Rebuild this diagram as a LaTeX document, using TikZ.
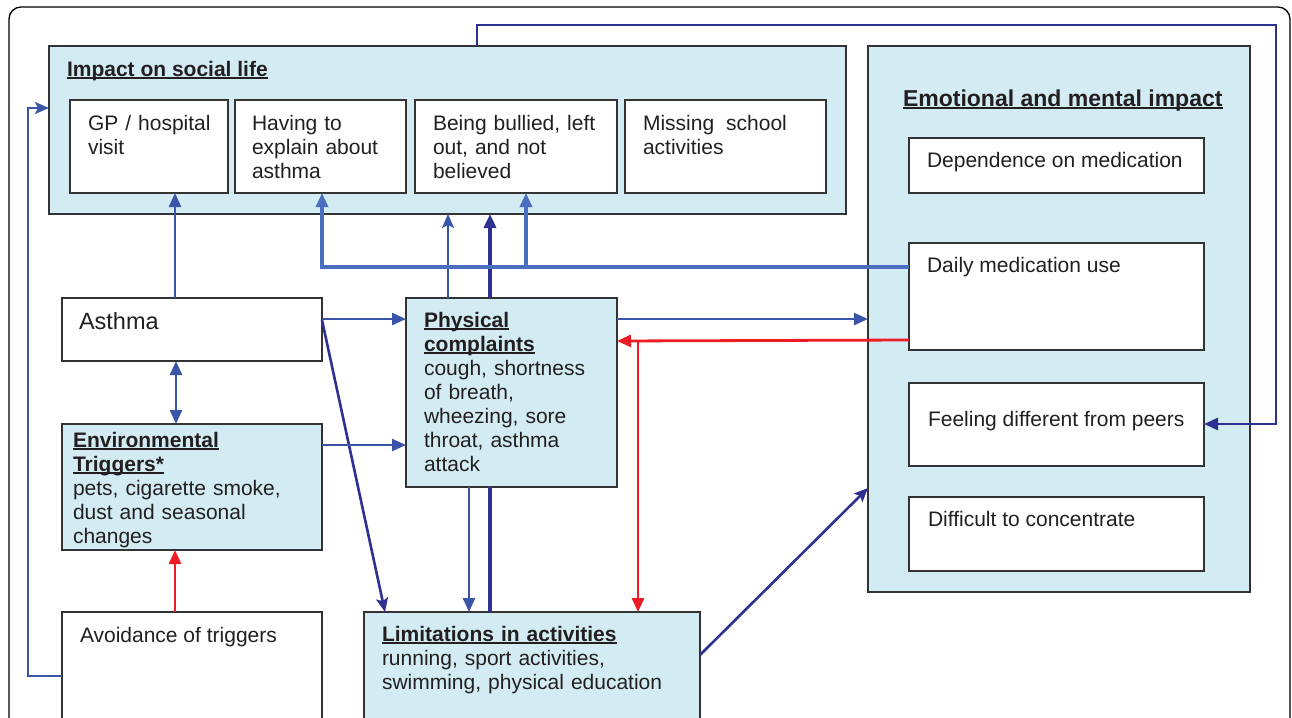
\documentclass[tikz,border=0pt]{standalone}
\usepackage{fontspec}
\setmainfont{Liberation Sans}
\usetikzlibrary{arrows.meta,calc}
\definecolor{lb}{HTML}{D3ECF3}
\definecolor{bline}{HTML}{333333}
\definecolor{tcol}{HTML}{231F20}
\definecolor{ablue}{HTML}{3A54A8}
\definecolor{anavy}{HTML}{2E3192}
\definecolor{alight}{HTML}{4A6FC1}
\definecolor{ared}{HTML}{ED1C24}
\newcommand\myul[1]{\leavevmode\setbox0\hbox{#1}\rlap{\rule[-2.6pt]{\wd0}{1.5pt}}\box0}
\begin{document}
\begin{tikzpicture}[x=1pt,y=-1pt,
 bx/.style={draw=bline, line width=2pt, anchor=north west, inner sep=0pt, outer sep=0pt},
 wbx/.style={bx, fill=white},
 lbx/.style={bx, fill=lb},
 mtxt/.style={anchor=north west, inner sep=0pt, outer sep=0pt, align=left, text width=330pt, text=tcol, font=\fontsize{21}{24}\selectfont},
 otxt/.style={anchor=base west, inner sep=0pt, outer sep=0pt, text=tcol, font=\fontsize{21}{24}\selectfont},
 tri/.style={-{Triangle[length=14pt,width=12pt]}},
 dtri/.style={{Triangle[length=14pt,width=12pt]}-{Triangle[length=14pt,width=12pt]}},
 stl/.style={-{Stealth[length=14pt,width=12pt,inset=3pt]}},
 bl/.style={ablue, line width=2.4pt},
 nv/.style={anavy, line width=2.6pt},
 lt/.style={alight, line width=3.2pt},
 rd/.style={ared, line width=2.8pt},
]
\useasboundingbox (0,0) rectangle (1292,717);
\clip (0,0) rectangle (1292,717);
\fill[white] (0,0) rectangle (1292,717);
% outer frame
\draw[black, line width=1.3pt, rounded corners=12pt] (9,7) rectangle (1290,760);

% social life
\node[lbx, minimum width=797pt, minimum height=168pt] (soc) at (49,46) {};
\node[otxt] (socT) at (67,76) {\myul{\textbf{Impact on social life}}};
\node[wbx, minimum width=158pt, minimum height=93pt] (gp) at (70,100) {};
\node[wbx, minimum width=171pt, minimum height=93pt] (hav) at (235,100) {};
\node[wbx, minimum width=202pt, minimum height=93pt] (bul) at (415,100) {};
\node[wbx, minimum width=201pt, minimum height=93pt] (mis) at (625,100) {};
\node[mtxt] (gpT) at (88,113.2) {\strut GP / hospital\\visit};
\node[mtxt] (havT) at (252,113.2) {\strut Having to\\explain about\\asthma};
\node[mtxt] (bulT) at (433,113.2) {\strut Being bullied, left\\out, and not\\believed};
\node[mtxt] (misT) at (643,113.2) {\strut Missing\hspace{5pt} school\\activities};

% emotional
\node[lbx, minimum width=382pt, minimum height=546pt] (emo) at (868,46) {};
\node[otxt, font=\fontsize{23}{26}\selectfont] (emoT) at (903,106) {\myul{\textbf{Emotional and mental impact}}};
\node[wbx, minimum width=295pt, minimum height=55pt] (dep) at (909,138) {};
\node[wbx, minimum width=295pt, minimum height=107pt] (dai) at (909,243) {};
\node[wbx, minimum width=295pt, minimum height=83pt] (fee) at (909,383) {};
\node[wbx, minimum width=295pt, minimum height=74pt] (dif) at (909,497) {};
\node[otxt] (depT) at (927,167) {Dependence on medication};
\node[otxt] (daiT) at (927,272) {Daily medication use};
\node[otxt] (feeT) at (928,426) {Feeling different from peers};
\node[otxt] (difT) at (928,526) {Difficult to concentrate};

% left column
\node[wbx, minimum width=260pt, minimum height=63pt] (ast) at (62,298) {};
\node[otxt, font=\fontsize{23.5}{26}\selectfont] (astT) at (79,329) {Asthma};
\node[lbx, minimum width=260pt, minimum height=126pt] (env) at (62,424) {};
\node[mtxt] (envT) at (73,430.2) {\strut\myul{\textbf{Environmental}}\\\myul{\textbf{Triggers*}}\\pets, cigarette smoke,\\dust and seasonal\\changes};
\node[wbx, minimum width=260pt, minimum height=200pt] (avo) at (62,612) {};
\node[otxt] (avoT) at (80,642) {Avoidance of triggers};

% middle
\node[lbx, minimum width=211pt, minimum height=189pt] (phy) at (406,298) {};
\node[mtxt] (phyT) at (424,310.2) {\strut\myul{\textbf{Physical}}\\\myul{\textbf{complaints}}\\cough, shortness\\of breath,\\wheezing, sore\\throat, asthma\\attack};
\node[lbx, minimum width=336pt, minimum height=200pt] (lim) at (364,612) {};
\node[mtxt] (limT) at (382,624.2) {\strut\myul{\textbf{Limitations in activities}}\\running, sport activities,\\swimming, physical education};

% connectors
\draw[bl, tri] ($(ast.north west)+(113,0)$) -- ($(gp.south west)+(105,0)$);
\draw[bl, dtri] ($(ast.south west)+(114,0)$) -- ($(env.north west)+(114,0)$);
\draw[rd, tri] ($(avo.north west)+(113,0)$) -- ($(env.south west)+(113,0)$);
\draw[bl, stl] ($(avo.north west)+(0,64)$) -| ($(soc.north west)+(-21,62)$) -- ($(soc.north west)+(0,62)$);
\draw[bl, tri] ($(ast.north east)+(0,21)$) -- ($(phy.north west)+(0,21)$);
\draw[nv, stl] ($(ast.north east)+(0,22)$) -- ($(lim.north west)+(21,0)$);
\draw[bl, tri] ($(env.north east)+(0,21)$) -- ($(phy.north west)+(0,147)$);
\draw[bl, stl] ($(phy.north west)+(42,0)$) -- ($(soc.south west)+(399,0)$);
\draw[nv, line width=3.6pt, tri] ($(phy.north west)+(84,0)$) -- ($(soc.south west)+(441,0)$);
\draw[nv, line width=3.6pt] ($(lim.north west)+(126,0)$) -- ($(phy.south west)+(84,0)$);
\draw[bl, tri] ($(phy.south west)+(63,0)$) -- ($(lim.north west)+(105,0)$);
\draw[lt, tri] ($(dai.north west)+(0,24)$) -| ($(hav.south west)+(87,0)$);
\draw[lt, tri] ($(bul.south west)+(111,74)$) -- ($(bul.south west)+(111,0)$);
\draw[bl, tri] ($(phy.north east)+(0,21)$) -- ($(emo.north west)+(0,273)$);
\draw[rd, tri] ($(dai.north west)+(0,97)$) -- ($(phy.north east)+(0,43)$);
\draw[rd, tri] ($(phy.north east)+(21,43)$) -- ($(lim.north west)+(274,0)$);
\draw[nv, stl] ($(lim.north east)+(0,43)$) -- ($(emo.north west)+(0,442)$);
\draw[nv, tri] ($(soc.north west)+(428,0)$) |- ($(emo.north east)+(26,-21)$) |- ($(fee.north east)+(0,41)$);
\end{tikzpicture}
\end{document}
